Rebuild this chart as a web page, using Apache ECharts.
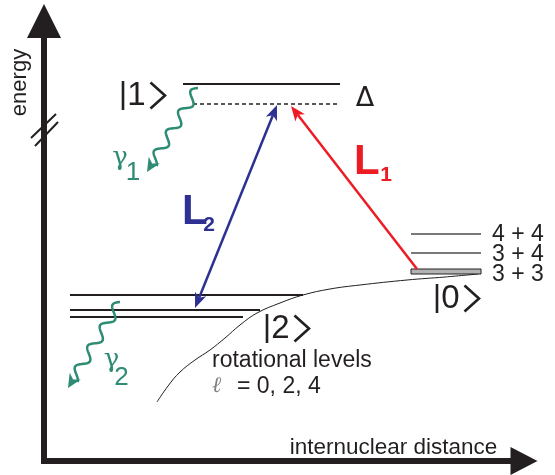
<!DOCTYPE html>
<html>
<head>
<meta charset="utf-8">
<script src="https://cdn.jsdelivr.net/npm/echarts@6/dist/echarts.min.js"></script>
<style>
html, body { margin: 0; padding: 0; background: #fff; }
#main { width: 555px; height: 475px; }
</style>
</head>
<body>
<div id="main"></div>
<script>
// arbitrary units: distance measured from the energy axis, energy measured up from the distance axis

// excited state |1> and the detuned (virtual) level Δ below it: [from, to, energy]
const level1 = [[139, 296, 377]];
const virtualLevel = [[149, 296, 357]];
// ground state |0> asymptote channels (4+4, 3+4) and the populated 3+3 channel
const channels = ['4 + 4', '3 + 4', '3 + 3'];
const channelLevels = [[367, 437, 227], [367, 437, 208]];
const channel33 = [[367, 437, 189.5]];
// rotational levels of |2>, l = 0, 2, 4
const rotLevels = [[26, 259, 166], [26, 216, 151], [26, 199, 144]];

// potential curve of the bound state
const curveX = [113, 124, 136, 151, 166, 181, 196, 213, 236, 259, 286, 316, 363, 401, 434];
const curveY = [59, 75, 89, 101, 111, 123, 136, 148, 158, 166, 172, 176, 181, 184, 187];

// lasers: [x0, y0, x1, y1, double headed]
const laser1 = [[373, 192, 247, 355, 0]];
const laser2 = [[151, 153, 233, 356, 1]];
// spontaneous emission: [x0, y0, x1, y1]
const photons = [[154, 373, 103, 289], [76, 159, 24, 73]];
// axis break on the energy axis
const axisBreak = [[-13, 323, 12, 347], [-9, 315, 14, 339]];

// state kets: [x, y, state number]
const kets = [[99.5, 365.5, '1'], [413.5, 162.5, '0'], [243.5, 132.5, '2']];

// text: [x, y, text, style]
const labels = [
  [-23.6, 378.5, 'energy', 'axisV'],
  [349.5, 13.6, 'internuclear distance', 'axis'],
  [321, 362, 'Δ', 'delta'],
  [448, 226.3, channels[0], 'channel'],
  [448, 206.3, channels[1], 'channel'],
  [448, 186.3, channels[2], 'channel'],
  [168, 100, 'rotational levels', 'note'],
  [168, 74.6, 'ℓ', 'ell'],
  [193, 74.6, '= 0, 2, 4', 'note'],
  [310, 298.5, 'L', 'L1'],
  [342, 285.3, '1', 'L1sub'],
  [138, 248.5, 'L', 'L2'],
  [165, 235.3, '2', 'L2sub'],
  [76, 303, 'γ', 'gamma'],
  [89, 288, '1', 'gammaSub'],
  [67.5, 101, 'γ', 'gamma'],
  [77.5, 83, '2', 'gammaSub']
];

const INK = '#231f20';
const RED = '#ed1c24';
const BLUE = '#2e3192';
const TEAL = '#2e8b74';
const SANS = '"Liberation Sans", Arial, sans-serif';

const textStyles = {
  axisV: { fontSize: 22, fill: INK, align: 'center', rotation: Math.PI / 2 },
  axis: { fontSize: 22.5, fill: INK, align: 'center' },
  delta: { fontSize: 27, fill: INK, align: 'center', fontFamily: '"DejaVu Sans", sans-serif' },
  channel: { fontSize: 23, fill: INK, align: 'left' },
  note: { fontSize: 23, fill: INK, align: 'left' },
  ell: { fontSize: 22, fill: '#808080', align: 'left', fontStyle: 'italic', fontFamily: '"Liberation Serif", serif' },
  L1: { fontSize: 42, fill: RED, align: 'left', fontWeight: 'bold' },
  L1sub: { fontSize: 21, fill: RED, align: 'center', fontWeight: 'bold' },
  L2: { fontSize: 42, fill: BLUE, align: 'left', fontWeight: 'bold' },
  L2sub: { fontSize: 21, fill: BLUE, align: 'center', fontWeight: 'bold' },
  gamma: { fontSize: 26, fill: TEAL, align: 'center', fontFamily: '"DejaVu Serif", serif' },
  gammaSub: { fontSize: 26, fill: TEAL, align: 'center' }
};

function levelSeries(data, style) {
  return {
    type: 'custom',
    data: data,
    z: 3,
    renderItem: function (params, api) {
      const a = api.coord([api.value(0), api.value(2)]);
      const b = api.coord([api.value(1), api.value(2)]);
      return {
        type: 'line',
        shape: { x1: a[0], y1: a[1], x2: b[0], y2: b[1] },
        style: style
      };
    }
  };
}

function arrowSeries(data, color) {
  return {
    type: 'custom',
    data: data,
    z: 5,
    renderItem: function (params, api) {
      const a = api.coord([api.value(0), api.value(1)]);
      const b = api.coord([api.value(2), api.value(3)]);
      const both = api.value(4) === 1;
      const dx = b[0] - a[0], dy = b[1] - a[1];
      const len = Math.hypot(dx, dy);
      const ux = dx / len, uy = dy / len, px = -uy, py = ux;
      const hl = 15, hw = 6, notch = 11;
      function head(t, sx, sy) {
        return {
          type: 'polygon',
          shape: { points: [
            [t[0], t[1]],
            [t[0] - sx * hl + px * hw, t[1] - sy * hl + py * hw],
            [t[0] - sx * notch, t[1] - sy * notch],
            [t[0] - sx * hl - px * hw, t[1] - sy * hl - py * hw]
          ] },
          style: { fill: color }
        };
      }
      const start = both ? [a[0] + ux * notch, a[1] + uy * notch] : a;
      const children = [{
        type: 'line',
        shape: { x1: start[0], y1: start[1], x2: b[0] - ux * notch, y2: b[1] - uy * notch },
        style: { stroke: color, lineWidth: 2.5 }
      }, head(b, ux, uy)];
      if (both) children.push(head(a, -ux, -uy));
      return { type: 'group', children: children };
    }
  };
}

const option = {
  animation: false,
  backgroundColor: '#fff',
  grid: { left: 44, right: 31, top: 21, bottom: 14 },
  xAxis: {
    type: 'value', min: 0, max: 480,
    axisLine: {
      show: true, symbol: ['none', 'triangle'], symbolSize: [28, 27],
      lineStyle: { color: INK, width: 6, cap: 'square' }
    },
    axisTick: { show: false }, axisLabel: { show: false }, splitLine: { show: false }
  },
  yAxis: {
    type: 'value', min: 0, max: 440,
    axisLine: {
      show: true, symbol: ['none', 'triangle'], symbolSize: [34, 34],
      lineStyle: { color: INK, width: 6, cap: 'square' }
    },
    axisTick: { show: false }, axisLabel: { show: false }, splitLine: { show: false }
  },
  series: [
    {
      type: 'line',
      data: curveX.map((x, i) => [x, curveY[i]]),
      smooth: 0.4,
      showSymbol: false,
      lineStyle: { color: INK, width: 1 },
      z: 2
    },
    levelSeries(level1, { stroke: INK, lineWidth: 2 }),
    levelSeries(virtualLevel, { stroke: INK, lineWidth: 1.5, lineDash: [4, 3] }),
    levelSeries(rotLevels, { stroke: INK, lineWidth: 2 }),
    levelSeries(channelLevels, { stroke: '#4d4d4d', lineWidth: 1.5 }),
    {
      type: 'custom',
      data: channel33,
      z: 3,
      renderItem: function (params, api) {
        const a = api.coord([api.value(0), api.value(2)]);
        const b = api.coord([api.value(1), api.value(2)]);
        return {
          type: 'rect',
          shape: { x: a[0], y: a[1] - 2.5, width: b[0] - a[0], height: 5 },
          style: { fill: '#b3b3b3', stroke: INK, lineWidth: 1 }
        };
      }
    },
    {
      type: 'custom',
      data: axisBreak,
      z: 6,
      renderItem: function (params, api) {
        const a = api.coord([api.value(0), api.value(1)]);
        const b = api.coord([api.value(2), api.value(3)]);
        return {
          type: 'line',
          shape: { x1: a[0], y1: a[1], x2: b[0], y2: b[1] },
          style: { stroke: INK, lineWidth: 2 }
        };
      }
    },
    arrowSeries(laser1, RED),
    arrowSeries(laser2, BLUE),
    {
      type: 'custom',
      data: photons,
      z: 5,
      renderItem: function (params, api) {
        const a = api.coord([api.value(0), api.value(1)]);
        const b = api.coord([api.value(2), api.value(3)]);
        const dx = b[0] - a[0], dy = b[1] - a[1];
        const len = Math.hypot(dx, dy);
        const ux = dx / len, uy = dy / len, px = -uy, py = ux;
        const hl = 14, hw = 6.5;
        const waveLen = len - hl + 4;
        const pts = [];
        for (let i = 0; i <= 160; i++) {
          const t = i / 160, s = t * waveLen;
          const off = 5 * Math.sin(t * Math.PI * 2 * 3.75);
          pts.push([a[0] + ux * s + px * off, a[1] + uy * s + py * off]);
        }
        return {
          type: 'group',
          children: [{
            type: 'polyline',
            shape: { points: pts },
            style: { stroke: TEAL, lineWidth: 2.5, fill: null }
          }, {
            type: 'polygon',
            shape: { points: [
              [b[0], b[1]],
              [b[0] - ux * hl + px * hw, b[1] - uy * hl + py * hw],
              [b[0] - ux * 10, b[1] - uy * 10],
              [b[0] - ux * hl - px * hw, b[1] - uy * hl - py * hw]
            ] },
            style: { fill: TEAL }
          }]
        };
      }
    },
    {
      // |n> kets: bar, number, angle bracket
      type: 'custom',
      data: kets,
      z: 10,
      renderItem: function (params, api) {
        const k = kets[params.dataIndex];
        const p = api.coord([k[0], k[1]]);
        const ket = { stroke: INK, lineWidth: 2.6, fill: null };
        return {
          type: 'group',
          children: [{
            type: 'line',
            shape: { x1: p[0] - 20.5, y1: p[1] - 14.5, x2: p[0] - 20.5, y2: p[1] + 14.5 },
            style: ket
          }, {
            type: 'text', x: p[0] - 7, y: p[1] + 0.5,
            style: { text: k[2], fill: INK, fontSize: 33, fontFamily: SANS, align: 'center', verticalAlign: 'middle' }
          }, {
            type: 'polyline',
            shape: { points: [[p[0] + 7, p[1] - 13], [p[0] + 21.5, p[1]], [p[0] + 7, p[1] + 13]] },
            style: ket
          }]
        };
      }
    },
    {
      type: 'custom',
      data: labels,
      z: 10,
      renderItem: function (params, api) {
        const item = labels[params.dataIndex];
        const st = textStyles[item[3]];
        const p = api.coord([item[0], item[1]]);
        return {
          type: 'text',
          x: p[0], y: p[1],
          rotation: st.rotation || 0,
          style: {
            text: item[2],
            fill: st.fill,
            fontSize: st.fontSize,
            fontWeight: st.fontWeight || 'normal',
            fontStyle: st.fontStyle || 'normal',
            fontFamily: st.fontFamily || SANS,
            align: st.align,
            verticalAlign: 'middle'
          }
        };
      }
    }
  ]
};

const myChart = echarts.init(document.getElementById('main'));
myChart.setOption(option);
</script>
</body>
</html>
